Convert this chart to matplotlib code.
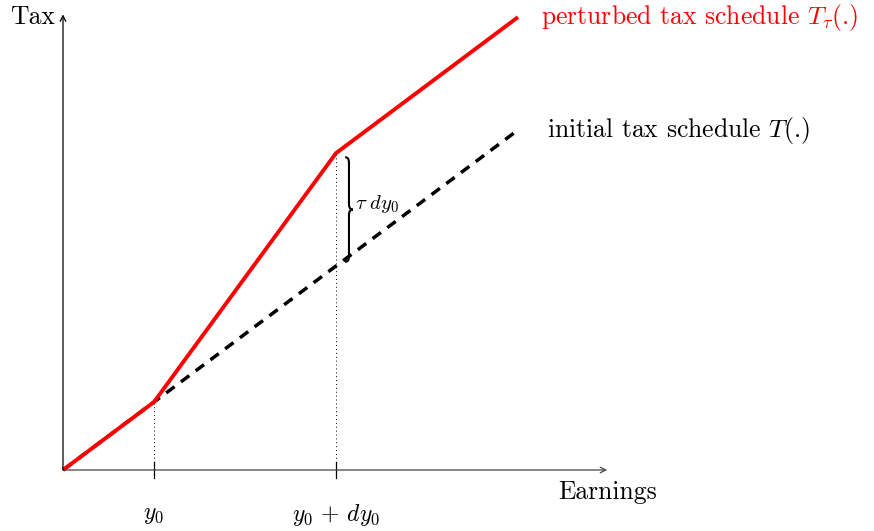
import matplotlib
matplotlib.use("Agg")
import matplotlib.pyplot as plt
from matplotlib.path import Path
from matplotlib.patches import PathPatch

plt.rcParams['font.family'] = 'serif'
plt.rcParams['font.serif'] = ['cmr10', 'DejaVu Serif']
plt.rcParams['mathtext.fontset'] = 'cm'
plt.rcParams['axes.unicode_minus'] = False

# earnings points: 0, y0, y0+dy0, end
earn = [0, 1, 3, 5]
tax_initial = [0, 1, 3, 5]
tax_perturbed = [0, 1, 4.66, 6.66]
tick_pos = [1, 3]
tick_labels = [r'$y_0$', r'$y_0\, +\, dy_0$']

fig = plt.figure(figsize=(8.74, 5.31), dpi=100)
ax = fig.add_axes([0, 0, 1, 1])
ax.set_xlim(-63 / 91, (874 - 63) / 91)
ax.set_ylim(-(531 - 470) / 68, 470 / 68)
ax.axis('off')

# axes with arrows
ax.annotate('', xy=(5.98, 0), xytext=(0, 0),
            arrowprops=dict(arrowstyle='->', lw=0.9, color='#444444', shrinkA=0, shrinkB=0))
ax.annotate('', xy=(0, 6.7), xytext=(0, 0),
            arrowprops=dict(arrowstyle='->', lw=0.9, color='black', shrinkA=0, shrinkB=0))
ax.text(-0.09, 6.66, 'Tax', ha='right', va='center', fontsize=18.5)
ax.text(5.98, -0.32, 'Earnings', ha='center', va='center', fontsize=18.5)

# ticks, tick labels and dotted guides
for x, lab in zip(tick_pos, tick_labels):
    ax.plot([x, x], [-0.12, 0.12], color='black', lw=0.9)
    ax.text(x, -0.66, lab, ha='center', va='center', fontsize=17)
    ax.plot([x, x], [0, tax_perturbed[earn.index(x)]], color='black', lw=0.7, ls=(0, (1, 3)))

ax.plot(earn, tax_initial, color='black', lw=2.5, ls=(0, (3, 2.3)))
ax.plot(earn, tax_perturbed, color='red', lw=2.8, solid_capstyle='butt')

ax.text(5.25, 6.66, r'perturbed tax schedule $T_\tau$(.)', color='red',
        ha='left', va='center', fontsize=18.5)
ax.text(5.32, 4.99, r'initial tax schedule $T$(.)', color='black',
        ha='left', va='center', fontsize=18.5)

# brace between the two schedules at y0 + dy0
x0, w = 3.1, 0.085
yt, yb = tax_perturbed[2] - 0.06, tax_initial[2] + 0.06
ym = (yt + yb) / 2
h, r = w / 2, 0.08
verts = [(x0, yt), (x0 + h, yt), (x0 + h, yt - r),
         (x0 + h, ym + r),
         (x0 + h, ym), (x0 + w, ym),
         (x0 + h, ym), (x0 + h, ym - r),
         (x0 + h, yb + r),
         (x0 + h, yb), (x0, yb)]
codes = [Path.MOVETO, Path.CURVE3, Path.CURVE3,
         Path.LINETO,
         Path.CURVE3, Path.CURVE3,
         Path.CURVE3, Path.CURVE3,
         Path.LINETO,
         Path.CURVE3, Path.CURVE3]
ax.add_patch(PathPatch(Path(verts, codes), fill=False, lw=1.5, color='black'))
ax.text(x0 + w + 0.02, ym + 0.08, r'$\tau\; dy_0$', ha='left', va='center', fontsize=15)

fig.savefig('out.png', dpi=100)
